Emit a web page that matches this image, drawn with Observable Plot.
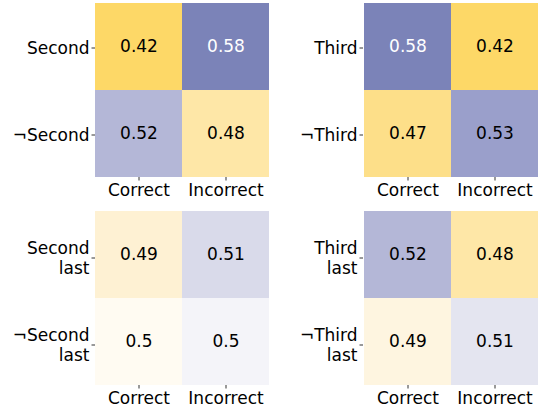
<!DOCTYPE html>
<html>
<head>
<meta charset="utf-8">
<script src="https://cdn.jsdelivr.net/npm/d3@7"></script>
<script src="https://cdn.jsdelivr.net/npm/@observablehq/plot@0.6"></script>
<style>
  html, body { margin: 0; padding: 0; background: #fff; }
  #wrap { position: relative; width: 539px; height: 412px; overflow: hidden; font-family: "DejaVu Sans", sans-serif; }
  #wrap > div { position: absolute; }
</style>
</head>
<body>
<div id="wrap">
  <div id="tl" style="left:0px;top:0px"></div>
  <div id="tr" style="left:270px;top:0px"></div>
  <div id="bl" style="left:0px;top:208px"></div>
  <div id="br" style="left:270px;top:208px"></div>
</div>
<script>
// Column categories shared by all panels
const columns = ["Correct", "Incorrect"];

// Panel row labels
const rowsSecond = ["Second", "¬Second"];
const rowsThird = ["Third", "¬Third"];
const rowsSecondLast = ["Second\nlast", "¬Second\nlast"];
const rowsThirdLast = ["Third\nlast", "¬Third\nlast"];

// Panel values (row-major: [row][column])
const valuesSecond = [[0.42, 0.58], [0.52, 0.48]];
const valuesThird = [[0.58, 0.42], [0.47, 0.53]];
const valuesSecondLast = [[0.49, 0.51], [0.497, 0.503]];
const valuesThirdLast = [[0.52, 0.48], [0.493, 0.507]];

// Colour scale stops
const colorDomain = [0.42, 0.47, 0.48, 0.49, 0.50, 0.51, 0.52, 0.53, 0.58];
const colorRange = ["#FDD867", "#FDDF89", "#FEE7A7", "#FEF1D3", "#FFFFFF", "#D9DAEA", "#B4B7D7", "#9A9FCB", "#7B83B8"];

const fmt = d3.format(".2~g");

function panel(rows, values, opts) {
  const data = [];
  rows.forEach((r, i) => columns.forEach((c, j) => data.push({row: r, col: c, value: values[i][j]})));
  return Plot.plot({
    width: opts.width,
    height: opts.height,
    marginLeft: opts.marginLeft,
    marginRight: 1,
    marginTop: 3,
    marginBottom: opts.height - 177,
    style: {fontFamily: "DejaVu Sans, sans-serif", background: "transparent"},
    x: {domain: columns, padding: 0, axis: null},
    y: {domain: rows, padding: 0, axis: null},
    color: {type: "linear", domain: colorDomain, range: colorRange, interpolate: "rgb", clamp: true},
    marks: [
      Plot.cell(data, {x: "col", y: "row", fill: "value", inset: 0}),
      Plot.text(data, {x: "col", y: "row", text: d => fmt(d.value), fontSize: 17,
        fill: d => d.value > 0.55 ? "white" : "black"}),
      Plot.axisX({tickSize: 3.5, tickPadding: 2.5, fontSize: 17, label: null, stroke: "#333", fill: "black"}),
      Plot.axisY({tickSize: 3.5, tickPadding: 2.5, fontSize: 17, label: null, lineHeight: 1.15,
        dy: opts.dy, stroke: "#333", fill: "black"})
    ]
  });
}

document.getElementById("tl").appendChild(panel(rowsSecond, valuesSecond, {width: 270, height: 206, marginLeft: 95, dy: 1}));
document.getElementById("tr").appendChild(panel(rowsThird, valuesThird, {width: 269, height: 206, marginLeft: 93, dy: 1}));
document.getElementById("bl").appendChild(panel(rowsSecondLast, valuesSecondLast, {width: 270, height: 204, marginLeft: 95, dy: 3}));
document.getElementById("br").appendChild(panel(rowsThirdLast, valuesThirdLast, {width: 269, height: 204, marginLeft: 93, dy: 3}));
</script>
</body>
</html>
